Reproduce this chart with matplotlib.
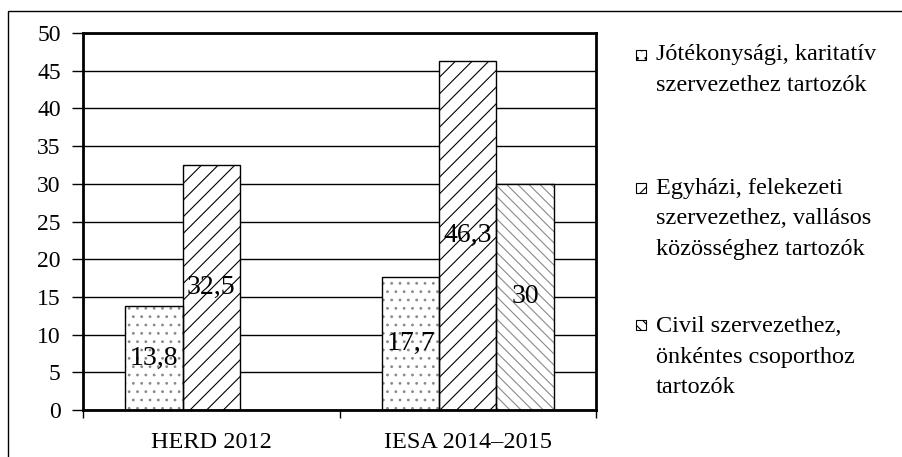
import matplotlib
matplotlib.use("Agg")
import matplotlib.pyplot as plt
import numpy as np
from matplotlib.patches import Rectangle

plt.rcParams['font.family'] = ['Liberation Serif', 'DejaVu Serif']
plt.rcParams['hatch.linewidth'] = 0.8

categories = ["HERD 2012", "IESA 2014\u20132015"]
series_names = ["J\u00f3t\u00e9konys\u00e1gi, karitat\u00edv\nszervezethez tartoz\u00f3k",
                "Egyh\u00e1zi, felekezeti\nszervezethez, vall\u00e1sos\nk\u00f6z\u00f6ss\u00e9ghez tartoz\u00f3k",
                "Civil szervezethez,\n\u00f6nk\u00e9ntes csoporthoz\ntartoz\u00f3k"]
charity = [13.8, 17.7]
church = [32.5, 46.3]
civil = [np.nan, 30]
value_labels = [["13,8", "17,7"], ["32,5", "46,3"], ["", "30"]]
yticks = [0, 5, 10, 15, 20, 25, 30, 35, 40, 45, 50]

W, H = 902, 457
fig = plt.figure(figsize=(W/100, H/100), dpi=100)
ax = fig.add_axes([83/W, 1-410/H, (596-83)/W, (410-33)/H])

x = np.arange(len(categories))
w = 0.2234
hatches = ['..', '//', '\\\\\\']
hcolors = ['#8a8a8a', 'black', '#8a8a8a']
series = [charity, church, civil]
for i, (vals, hatch, hc) in enumerate(zip(series, hatches, hcolors)):
    pos = x + (i - 1) * w
    ax.bar(pos, vals, w, color='white', edgecolor=hc, hatch=hatch, linewidth=0, zorder=3)
    ax.bar(pos, vals, w, color='none', edgecolor='black', linewidth=1.0, zorder=4)
    for j, v in enumerate(vals):
        if not np.isnan(v):
            ax.text(pos[j], v/2, value_labels[i][j], ha='center', va='center',
                    fontsize=20, zorder=5)

ax.set_xlim(-0.5, 1.5)
ax.set_ylim(0, 50)
ax.set_yticks(yticks)
ax.set_yticklabels([str(t) for t in yticks], fontsize=17)
ax.yaxis.grid(True, color='black', linewidth=1.0, zorder=0)
ax.set_axisbelow(True)
ax.set_xticks(x)
ax.set_xticklabels(categories, fontsize=17.5)
ax.tick_params(axis='x', length=0, pad=16)
ax.tick_params(axis='y', length=8, width=1, pad=8)
ax.set_xticks([-0.5, 0.5, 1.5], minor=True)
ax.tick_params(axis='x', which='minor', length=6, width=1)
for s in ax.spines.values():
    s.set_linewidth(2)
    s.set_zorder(6)

# outer frame
fig.patches.append(Rectangle((8/W, -0.1), 1.2, 1 - 11/H + 0.1, transform=fig.transFigure,
                             fill=False, edgecolor='black', linewidth=1))

# legend (manual)
legend_centers = [70, 219, 357]
marker_y = [55, 188, 325]
for name, hatch, hc, ly, my in zip(series_names, hatches, hcolors, legend_centers, marker_y):
    fig.patches.append(Rectangle((636/W, 1-(my+5)/H), 10/W, 10/H, transform=fig.transFigure,
                                 facecolor='white', edgecolor='black', hatch=hatch,
                                 linewidth=0.8))
    fig.text(656/W, 1-ly/H, name, fontsize=17.5, va='center', ha='left', linespacing=1.62)

fig.savefig("out.png", dpi=100)
